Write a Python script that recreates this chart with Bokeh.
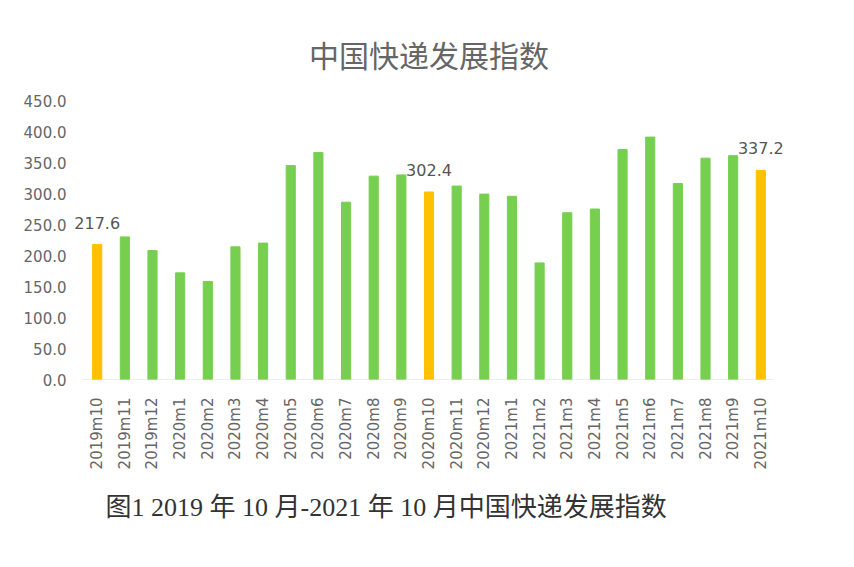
from bokeh.plotting import figure
from bokeh.models import (ColumnDataSource, Title, LabelSet, Range1d, FixedTicker,
                          PrintfTickFormatter)
from bokeh.core.properties import value
from bokeh.embed import file_html
from bokeh.resources import INLINE

months = ["2019m10", "2019m11", "2019m12", "2020m1", "2020m2", "2020m3", "2020m4",
          "2020m5", "2020m6", "2020m7", "2020m8", "2020m9", "2020m10", "2020m11",
          "2020m12", "2021m1", "2021m2", "2021m3", "2021m4", "2021m5", "2021m6",
          "2021m7", "2021m8", "2021m9", "2021m10"]
index_values = [217.6, 230.0, 208.0, 172.0, 158.0, 214.0, 220.0,
                345.0, 366.0, 286.0, 328.0, 330.0, 302.4, 312.0,
                299.0, 295.5, 188.0, 269.0, 275.0, 371.0, 391.0,
                316.0, 357.0, 361.0, 337.2]
highlight = ["2019m10", "2020m10", "2021m10"]
y_ticks = [0, 50, 100, 150, 200, 250, 300, 350, 400, 450]

GREEN = "#77CF4F"
YELLOW = "#FFC000"

colors = [YELLOW if m in highlight else GREEN for m in months]
labels = ["%.1f" % v if m in highlight else "" for m, v in zip(months, index_values)]

src = ColumnDataSource(dict(x=months, top=index_values, color=colors, label=labels))

p = figure(x_range=months, y_range=Range1d(0, 450), width=854, height=567,
           output_backend="svg", toolbar_location=None,
           min_border_left=73, min_border_right=70, min_border_top=100,
           min_border_bottom=188)
p.x_range.range_padding = 0.357
p.x_range.range_padding_units = "absolute"

# baseline (category axis line)
p.segment(x0=[(months[0], -0.53)], y0=[0], x1=[(months[-1], 0.45)], y1=[0],
          line_color="#D9D9D9", line_width=1.2)

p.vbar(x="x", top="top", width=0.33, color="color", source=src)

p.add_layout(LabelSet(x="x", y="top", text="label", source=src,
                      text_align="center", text_baseline="alphabetic", y_offset=16,
                      text_font=value("DejaVu Sans"), text_font_size="16px",
                      text_color="#555555"))

p.title = Title(text="中国快递发展指数", align="center", offset=14,
                text_font="Noto Sans CJK SC", text_font_size="30px",
                text_font_style="normal", text_color="#666666", standoff=50)

p.add_layout(Title(text="图1  2019 年 10 月-2021 年 10 月中国快递发展指数",
                   align="left", offset=32,
                   text_font="Liberation Serif, Noto Sans CJK SC", text_font_size="26px",
                   text_font_style="normal", text_color="#333333", standoff=36),
             "below")

p.yaxis.ticker = FixedTicker(ticks=y_ticks)
p.yaxis.formatter = PrintfTickFormatter(format="%.1f")
p.yaxis.axis_line_color = None
p.yaxis.major_tick_line_color = None
p.yaxis.minor_tick_line_color = None
p.yaxis.major_label_standoff = 1
p.yaxis.major_label_text_font = "DejaVu Sans"
p.yaxis.major_label_text_font_size = "15px"
p.yaxis.major_label_text_color = "#666666"

p.xaxis.axis_line_color = None
p.xaxis.major_tick_line_color = None
p.xaxis.minor_tick_line_color = None
p.xaxis.major_label_orientation = 1.5707963
p.xaxis.major_label_standoff = 12
p.xaxis.major_label_text_font = "DejaVu Sans"
p.xaxis.major_label_text_font_size = "15px"
p.xaxis.major_label_text_color = "#666666"

p.xgrid.grid_line_color = None
p.ygrid.grid_line_color = None
p.outline_line_color = None

open("out.html", "w").write(file_html(p, INLINE))
